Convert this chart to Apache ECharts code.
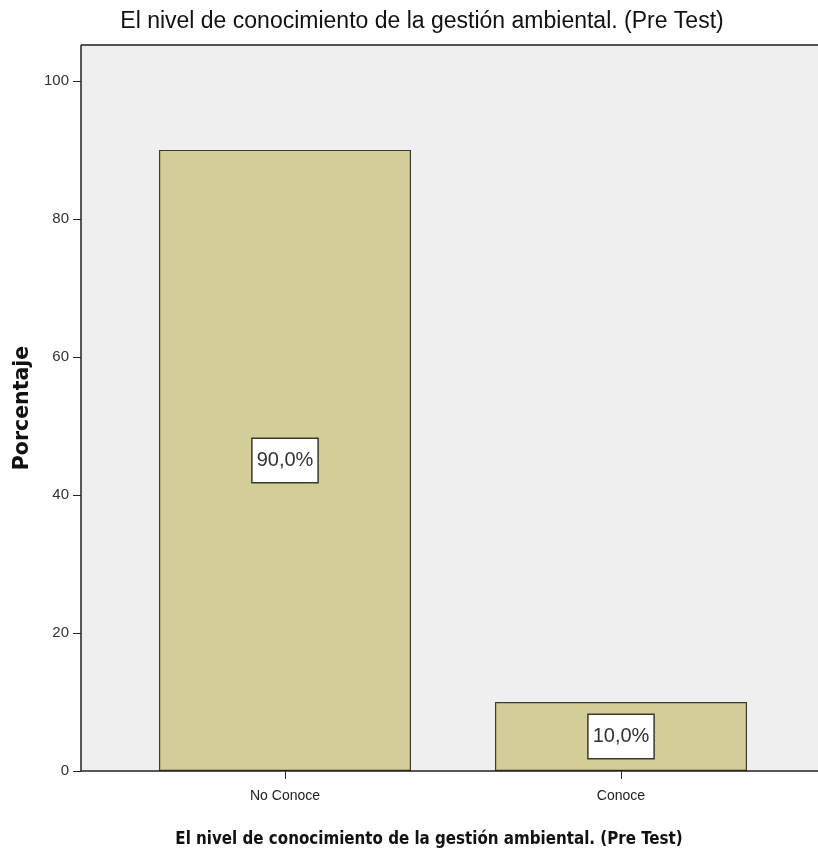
<!DOCTYPE html>
<html>
<head>
<meta charset="utf-8">
<script src="https://cdn.jsdelivr.net/npm/echarts@6/dist/echarts.min.js"></script>
<style>html,body{margin:0;padding:0;background:#fff}#c{width:818px;height:855px}</style>
</head>
<body>
<div id="c"></div>
<script>
const categories = ['No Conoce', 'Conoce'];
const percentages = [90, 10];
const yTicks = [0, 20, 40, 60, 80, 100];
const titleText = 'El nivel de conocimiento de la gestión ambiental. (Pre Test)';
const yName = 'Porcentaje';

const chart = echarts.init(document.getElementById('c'));
const L = 81, R = 818, T = 45, B = 771;
chart.setOption({
  animation: false,
  title: [
    { text: titleText, left: 417, top: 5, textAlign: 'center',
      textStyle: { fontFamily: 'Liberation Sans', fontSize: 23, fontWeight: 'normal', color: '#111' } },
    { text: titleText, left: 424, top: 826, textAlign: 'center',
      textStyle: { fontFamily: 'DejaVu Sans Condensed', fontSize: 16.8, fontWeight: 'bold', color: '#111' } }
  ],
  graphic: [
    { type: 'rect', z: -10, shape: { x: L, y: T, width: R - L, height: B - T }, style: { fill: '#efefef' }, silent: true },
    { type: 'line', z: 100, shape: { x1: L, y1: T, x2: R, y2: T }, style: { stroke: '#555', lineWidth: 2 } },
    { type: 'line', z: 100, shape: { x1: L, y1: B, x2: R, y2: B }, style: { stroke: '#222', lineWidth: 1.5 } },
    { type: 'line', z: 100, shape: { x1: L, y1: T, x2: L, y2: B }, style: { stroke: '#222', lineWidth: 1.5 } }
  ],
  grid: { left: 117, right: 29, top: T, bottom: 855 - B },
  xAxis: {
    type: 'category', data: categories,
    axisLine: { show: false },
    axisTick: { show: true, alignWithLabel: true, length: 8, lineStyle: { color: '#222' } },
    axisLabel: { fontFamily: 'Liberation Sans', fontSize: 14, color: '#222', margin: 18 }
  },
  yAxis: {
    type: 'value', min: 0, max: 105.2, interval: 20, offset: 36,
    name: yName, nameLocation: 'middle', nameGap: 46, nameRotate: 90,
    nameTextStyle: { fontFamily: 'DejaVu Sans', fontSize: 20.5, fontWeight: 'bold', color: '#111' },
    axisLine: { show: false },
    axisTick: { show: true, length: 8, customValues: yTicks, lineStyle: { color: '#222' } },
    splitLine: { show: false },
    axisLabel: { fontFamily: 'Liberation Sans', fontSize: 15, color: '#333', margin: 12, customValues: yTicks }
  },
  series: [{
    type: 'bar', data: percentages, barWidth: '75%',
    itemStyle: { color: '#d3cd98', borderColor: '#3b3a2c', borderWidth: 1.2 },
    label: {
      show: true, position: 'inside',
      formatter: p => p.value.toFixed(1).replace('.', ',') + '%',
      fontFamily: 'Liberation Sans', fontSize: 20, color: '#333',
      backgroundColor: '#fff', borderColor: '#3b3a2c', borderWidth: 1.5, padding: [12, 4, 11, 4]
    }
  }]
});
</script>
</body>
</html>
